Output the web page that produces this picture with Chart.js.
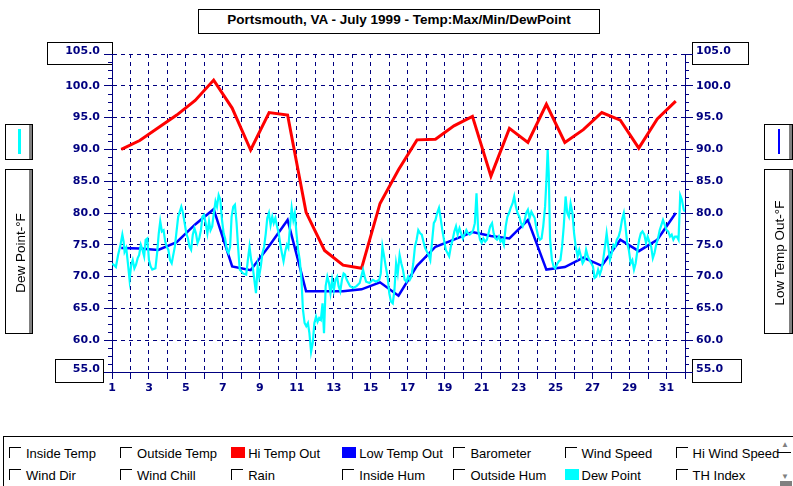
<!DOCTYPE html>
<html><head><meta charset="utf-8">
<script src="https://cdn.jsdelivr.net/npm/chart.js@4"></script>
<style>
html,body{margin:0;padding:0;background:#fff;}
#wrap{position:relative;width:793px;height:486px;overflow:hidden;font-family:"Liberation Sans",Arial,sans-serif;color:#000;}
canvas{position:absolute;left:0;top:0;}
.abs{position:absolute;box-sizing:border-box;}
.title{left:198px;top:9px;width:402px;height:25px;border:1px solid #000;background:#fff;font-weight:bold;font-size:13.5px;line-height:19px;text-align:center;white-space:nowrap;}
.side{border:1px solid #000;background:#fff;box-shadow:inset -3px 0 0 #808080;}
.rot{position:absolute;width:165px;height:28px;left:-68.5px;top:68.5px;transform:rotate(-90deg);text-align:center;line-height:28px;font-size:13.5px;white-space:nowrap;}
.leg{left:3px;top:436px;width:800px;height:60px;border:1px solid #000;background:#fff;}
.cb{position:absolute;width:12px;height:11px;border-top:1px solid #000;border-left:1px solid #000;box-sizing:border-box;}
.sw{position:absolute;width:14px;height:11px;}
.lt{position:absolute;font-size:13px;line-height:15px;white-space:nowrap;}
.arr{position:absolute;font-size:8px;line-height:8px;color:#808080;}
</style>
</head><body>
<div id="wrap">
<canvas id="c" width="793" height="486"></canvas>
<div class="abs title">Portsmouth, VA - July 1999 - Temp:Max/Min/DewPoint</div>
<div class="abs side" style="left:5px;top:124px;width:28px;height:36px;"><div style="position:absolute;left:12px;top:4px;width:2.5px;height:25px;background:#00ffff;"></div></div>
<div class="abs side" style="left:5px;top:169px;width:28px;height:165px;"><div class="rot">Dew Point-°F</div></div>
<div class="abs side" style="left:764px;top:124px;width:29px;height:36px;"><div style="position:absolute;left:12.5px;top:4px;width:2.5px;height:25px;background:#0000ff;"></div></div>
<div class="abs side" style="left:764px;top:169px;width:29px;height:165px;"><div class="rot" style="left:-68px;">Low Temp Out-°F</div></div>
<div class="abs leg"></div>
<div id="legend"></div>
<div class="arr" style="left:781px;top:441px;">&#9650;</div>
<div class="abs" style="left:778px;top:452px;width:13px;height:1px;background:#000;"></div>
<div class="arr" style="left:781px;top:473px;">&#9660;</div>
<div class="abs" style="left:780px;top:481px;width:12px;height:5px;background:#808080;"></div>
</div>
<script>
// ---- data ----
const days = [1,2,3,4,5,6,7,8,9,10,11,12,13,14,15,16,17,18,19,20,21,22,23,24,25,26,27,28,29,30,31];
const hiTemp = [90.0,91.4,93.4,95.4,97.7,100.9,96.5,89.9,95.8,95.4,80.1,74.1,71.8,71.3,81.5,86.8,91.5,91.6,93.7,95.2,85.8,93.3,91.1,97.1,91.1,93.1,95.8,94.6,90.2,94.8,97.6];
const lowTemp = [74.5,74.4,74.2,75.4,78.2,80.6,71.6,71.0,74.8,78.9,67.7,67.7,67.7,68.0,69.1,67.0,71.7,74.7,75.8,77.0,76.4,76.0,78.9,71.1,71.5,73.0,71.7,75.8,74.0,75.8,80.0];
const dewDay = [1.00,1.07,1.21,1.33,1.46,1.56,1.63,1.68,1.77,1.86,1.95,2.04,2.12,2.21,2.30,2.39,2.47,2.56,2.65,2.74,2.82,2.91,3.00,3.09,3.18,3.35,3.44,3.53,3.61,3.70,3.79,3.88,3.96,4.05,4.14,4.23,4.40,4.58,4.75,4.84,4.93,5.02,5.11,5.19,5.28,5.37,5.46,5.54,5.63,5.72,5.81,5.89,5.98,6.07,6.16,6.25,6.33,6.42,6.51,6.60,6.68,6.77,6.86,6.95,7.04,7.12,7.21,7.30,7.39,7.47,7.56,7.65,7.74,7.82,7.91,8.09,8.26,8.35,8.44,8.53,8.61,8.70,8.79,8.88,8.96,9.05,9.14,9.23,9.32,9.40,9.49,9.58,9.67,9.75,9.84,9.93,10.02,10.11,10.19,10.28,10.37,10.46,10.54,10.63,10.72,10.81,10.89,10.98,11.07,11.16,11.25,11.33,11.42,11.51,11.60,11.68,11.77,11.86,11.95,12.04,12.12,12.21,12.30,12.39,12.47,12.56,12.65,12.74,12.82,12.91,13.00,13.09,13.18,13.26,13.35,13.44,13.53,13.61,13.70,13.79,13.88,14.05,14.23,14.40,14.58,14.67,14.75,14.93,15.11,15.28,15.46,15.54,
15.63,15.72,15.81,15.91,16.00,16.09,16.19,16.28,16.37,16.46,16.56,16.65,16.74,16.83,16.93,17.02,17.11,17.20,17.30,17.39,17.48,17.57,17.67,17.76,17.85,17.94,18.04,18.13,18.22,18.31,18.41,18.50,18.59,18.69,18.78,18.87,18.96,19.06,19.15,19.24,19.33,19.43,19.52,19.61,19.70,19.80,19.89,19.98,20.07,20.17,20.26,20.35,20.44,20.54,20.63,20.72,20.81,20.91,21.00,21.09,21.19,21.28,21.37,21.46,21.56,21.65,21.74,21.83,21.93,22.02,22.11,22.20,22.30,22.39,22.48,22.57,22.67,22.76,22.85,22.94,23.04,23.13,23.22,23.31,23.41,23.50,23.59,23.69,23.78,23.87,23.96,24.06,24.15,24.24,24.33,24.43,24.50,24.57,24.63,24.70,24.80,24.89,24.98,25.07,25.17,25.26,25.35,25.44,25.54,25.63,25.72,25.81,25.91,26.00,26.09,26.19,26.28,26.37,26.46,26.56,26.65,26.74,26.83,26.93,27.02,27.11,27.20,27.30,27.39,27.48,27.57,27.67,27.76,27.85,27.94,28.04,28.13,28.22,28.31,28.41,28.50,28.59,28.69,28.78,28.87,28.96,29.06,29.15,29.24,29.33,29.43,29.52,29.61,29.70,29.80,29.89,29.98,30.07,30.17,30.26,30.35,30.44,30.54,30.63,30.72,30.81,30.91,31.00,31.09,31.19,31.28,31.37,31.46,31.56,31.65,31.74,31.83,31.93,32.00];
const dewPoint = [72.0,71.9,71.5,73.4,75.0,76.6,75.5,73.9,74.5,72.1,69.5,71.9,72.6,71.3,71.9,72.9,73.4,75.0,74.2,73.2,75.8,76.0,72.6,71.6,71.1,71.3,73.7,76.8,78.7,77.1,77.3,75.5,74.7,74.2,72.6,72.1,74.7,79.4,81.0,80.0,78.4,76.8,76.0,74.7,74.2,76.6,77.6,76.8,75.3,76.0,77.3,79.4,79.7,78.4,76.8,78.7,77.3,77.9,80.0,81.8,81.0,82.8,82.1,78.9,76.8,76.0,74.2,73.7,74.7,79.4,81.0,81.3,78.4,74.7,71.1,70.5,70.3,72.6,74.7,72.6,71.6,69.5,67.4,71.6,70.0,71.6,73.7,74.7,76.8,79.2,80.0,78.1,79.4,78.4,79.2,77.9,76.8,75.0,73.7,72.4,73.9,75.0,74.5,77.9,80.8,78.9,80.0,76.8,74.2,72.6,69.5,64.8,62.7,62.2,62.7,61.1,58.2,59.6,62.7,63.7,62.9,63.5,63.2,65.8,61.1,68.5,70.0,69.0,67.4,69.5,67.9,69.5,70.0,68.5,67.7,69.5,70.5,70.3,69.5,69.0,68.5,68.2,68.5,69.0,71.1,70.0,69.2,69.0,69.5,69.2,69.5,70.5,
74.7,73.2,71.6,70.0,67.4,66.1,65.8,67.9,72.1,70.5,73.4,72.1,71.1,69.5,69.2,70.0,69.5,70.0,72.1,74.7,75.8,77.3,76.8,76.6,75.5,74.5,73.9,73.4,72.6,75.3,78.4,78.9,80.0,80.8,79.2,77.3,75.8,74.2,73.7,73.2,74.7,75.8,77.1,77.9,76.6,77.6,76.8,76.0,76.6,77.3,76.8,76.6,76.8,77.3,78.4,83.1,77.3,75.8,75.3,76.0,75.5,75.8,76.8,77.9,78.4,76.8,76.0,75.8,76.3,75.5,75.8,75.0,77.9,79.4,80.0,80.8,81.5,82.6,81.0,80.0,79.4,78.4,77.9,78.7,80.0,80.5,79.2,80.2,79.7,79.2,77.6,76.3,75.8,76.0,77.9,81.0,85.0,89.9,86.0,75.8,72.6,71.6,71.3,71.9,72.4,72.6,74.7,77.9,82.6,80.0,79.4,81.5,80.0,76.8,74.7,73.2,74.2,73.2,72.1,72.6,74.2,73.2,72.6,72.1,71.6,69.8,70.0,71.1,70.3,71.1,72.6,74.7,76.8,74.7,72.6,73.7,75.0,74.7,75.8,76.3,77.3,78.9,80.0,77.9,75.3,74.2,72.1,72.6,71.1,72.1,74.2,75.8,76.8,77.1,76.6,75.3,76.3,75.5,74.7,72.9,73.7,75.0,76.0,77.3,78.1,78.9,78.1,77.3,77.1,76.3,76.6,75.8,76.3,76.3,75.8,82.8,82.1,80.5,80.2];
const yTicks = [55,60,65,70,75,80,85,90,95,100,105];
const xTicks = [1,2,3,4,5,6,7,8,9,10,11,12,13,14,15,16,17,18,19,20,21,22,23,24,25,26,27,28,29,30,31,32];
const legendRows = [
  [["Inside Temp",null],["Outside Temp",null],["Hi Temp Out","#ff0000"],["Low Temp Out","#0000ff"],["Barometer",null],["Wind Speed",null],["Hi Wind Speed",null]],
  [["Wind Dir",null],["Wind Chill",null],["Rain",null],["Inside Hum",null],["Outside Hum",null],["Dew Point","#00ffff"],["TH Index",null]]
];

// ---- bottom legend ----
const lg = document.getElementById('legend');
legendRows.forEach((row, r) => {
  row.forEach((it, c) => {
    const x = 9 + c * 111.1, y = r === 0 ? 447 : 469;
    const b = document.createElement('div');
    if (it[1]) { b.className = 'sw'; b.style.background = it[1]; }
    else b.className = 'cb';
    b.style.left = x + 'px'; b.style.top = y + 'px';
    lg.appendChild(b);
    const t = document.createElement('div');
    t.className = 'lt'; t.textContent = it[0];
    t.style.left = (x + 17) + 'px'; t.style.top = (r === 0 ? 446.3 : 468) + 'px';
    lg.appendChild(t);
  });
});

// ---- chart ----
const NAVY = '#000080';
const tickFont = {family: 'DejaVu Sans', size: 11, weight: 'bold'};
const yMin = yTicks[0], yMax = yTicks[yTicks.length - 1];
const decor = {
  id: 'decor',
  beforeDraw(chart) {
    const ctx = chart.ctx;
    const yl = chart.scales.y, yr = chart.scales.y2;
    ctx.save();
    ctx.fillStyle = '#fff'; ctx.fillRect(0, 0, chart.width, chart.height);
    const top = Math.round(yl.getPixelForValue(yMax)), bot = Math.round(yl.getPixelForValue(yMin));
    const L = Math.round(yl.right), R = Math.round(yr.left);
    ctx.strokeStyle = '#000'; ctx.lineWidth = 1;
    const rect = (x, y, w, h) => { ctx.fillStyle = '#fff'; ctx.fillRect(x, y, w, h); ctx.strokeRect(x + 0.5, y + 0.5, w - 1, h - 1); };
    rect(L - 65, top - 12, 66, 23);
    rect(L - 57, bot - 13, 49, 24);
    rect(R + 7, top - 12, 57, 23);
    rect(R + 7, bot - 13, 50, 24);
    ctx.restore();
  },
  afterDraw(chart) {
    const ctx = chart.ctx;
    const yl = chart.scales.y, yr = chart.scales.y2;
    ctx.save();
    ctx.strokeStyle = NAVY; ctx.lineWidth = 1;
    ctx.beginPath();
    for (let i = 0; i < yTicks.length - 1; i++) {
      for (let k = 1; k < 4; k++) {
        const v = yTicks[i] + (yTicks[i + 1] - yTicks[i]) * k / 4;
        const p = Math.round(yl.getPixelForValue(v)) + 0.5;
        ctx.moveTo(yl.right - 4, p); ctx.lineTo(yl.right, p);
        ctx.moveTo(yr.left, p); ctx.lineTo(yr.left + 4, p);
      }
    }
    ctx.stroke();
    ctx.font = 'bold 11px "DejaVu Sans"';
    ctx.fillStyle = NAVY; ctx.textBaseline = 'middle';
    [yMin, yMax].forEach(v => {
      const p = yl.getPixelForValue(v) - 3;
      ctx.textAlign = 'right'; ctx.fillText(v.toFixed(1), yl.right - 12, p);
      ctx.textAlign = 'left'; ctx.fillText(v.toFixed(1), yr.left + 11, p);
    });
    ctx.restore();
  }
};

const yLabel = v => (v === yMin || v === yMax) ? '' : Number(v).toFixed(1);

new Chart(document.getElementById('c'), {
  type: 'line',
  data: {
    datasets: [
      {label: 'Hi Temp Out', data: days.map((d, i) => ({x: d + 0.5, y: hiTemp[i]})), borderColor: '#ff0000', borderWidth: 3, pointRadius: 0, tension: 0, yAxisID: 'y', order: 3},
      {label: 'Low Temp Out', data: days.map((d, i) => ({x: d + 0.5, y: lowTemp[i]})), borderColor: '#0000ff', borderWidth: 2.5, pointRadius: 0, tension: 0, yAxisID: 'y2', order: 2},
      {label: 'Dew Point', data: dewDay.map((d, i) => ({x: d, y: dewPoint[i]})), borderColor: '#00ffff', borderWidth: 2.2, pointRadius: 0, tension: 0, yAxisID: 'y', order: 1}
    ]
  },
  options: {
    responsive: false, animation: false, devicePixelRatio: 1,
    layout: {padding: {top: 54, left: 0, right: 0, bottom: 0}},
    plugins: {legend: {display: false}, tooltip: {enabled: false}, title: {display: false}},
    scales: {
      x: {
        type: 'linear', position: 'bottom', min: xTicks[0], max: xTicks[xTicks.length - 1],
        afterBuildTicks: s => { s.ticks = xTicks.map(v => ({value: v})); },
        afterFit: s => { s.height = 114; },
        ticks: {autoSkip: false, maxRotation: 0, padding: 3, color: NAVY, font: tickFont,
          callback: v => (v % 2 === 1 && v <= 31) ? String(v) : ''},
        grid: {color: NAVY, lineWidth: 1, tickLength: 7, tickColor: NAVY},
        border: {display: true, color: NAVY, width: 1, dash: [4, 4]}
      },
      y: {
        type: 'linear', position: 'left', min: yMin, max: yMax,
        afterBuildTicks: s => { s.ticks = yTicks.map(v => ({value: v})); },
        afterFit: s => { s.width = 112; },
        ticks: {padding: 4, color: NAVY, font: tickFont, callback: yLabel},
        grid: {color: NAVY, lineWidth: 1, tickLength: 8, tickColor: NAVY},
        border: {display: true, color: NAVY, width: 1, dash: [4, 4]}
      },
      y2: {
        type: 'linear', position: 'right', min: yMin, max: yMax,
        afterBuildTicks: s => { s.ticks = yTicks.map(v => ({value: v})); },
        afterFit: s => { s.width = 108; },
        ticks: {padding: 3, color: NAVY, font: tickFont, callback: yLabel},
        grid: {drawOnChartArea: false, color: NAVY, lineWidth: 1, tickLength: 8, tickColor: NAVY},
        border: {display: true, color: NAVY, width: 1}
      }
    }
  },
  plugins: [decor]
});
</script>
</body></html>
